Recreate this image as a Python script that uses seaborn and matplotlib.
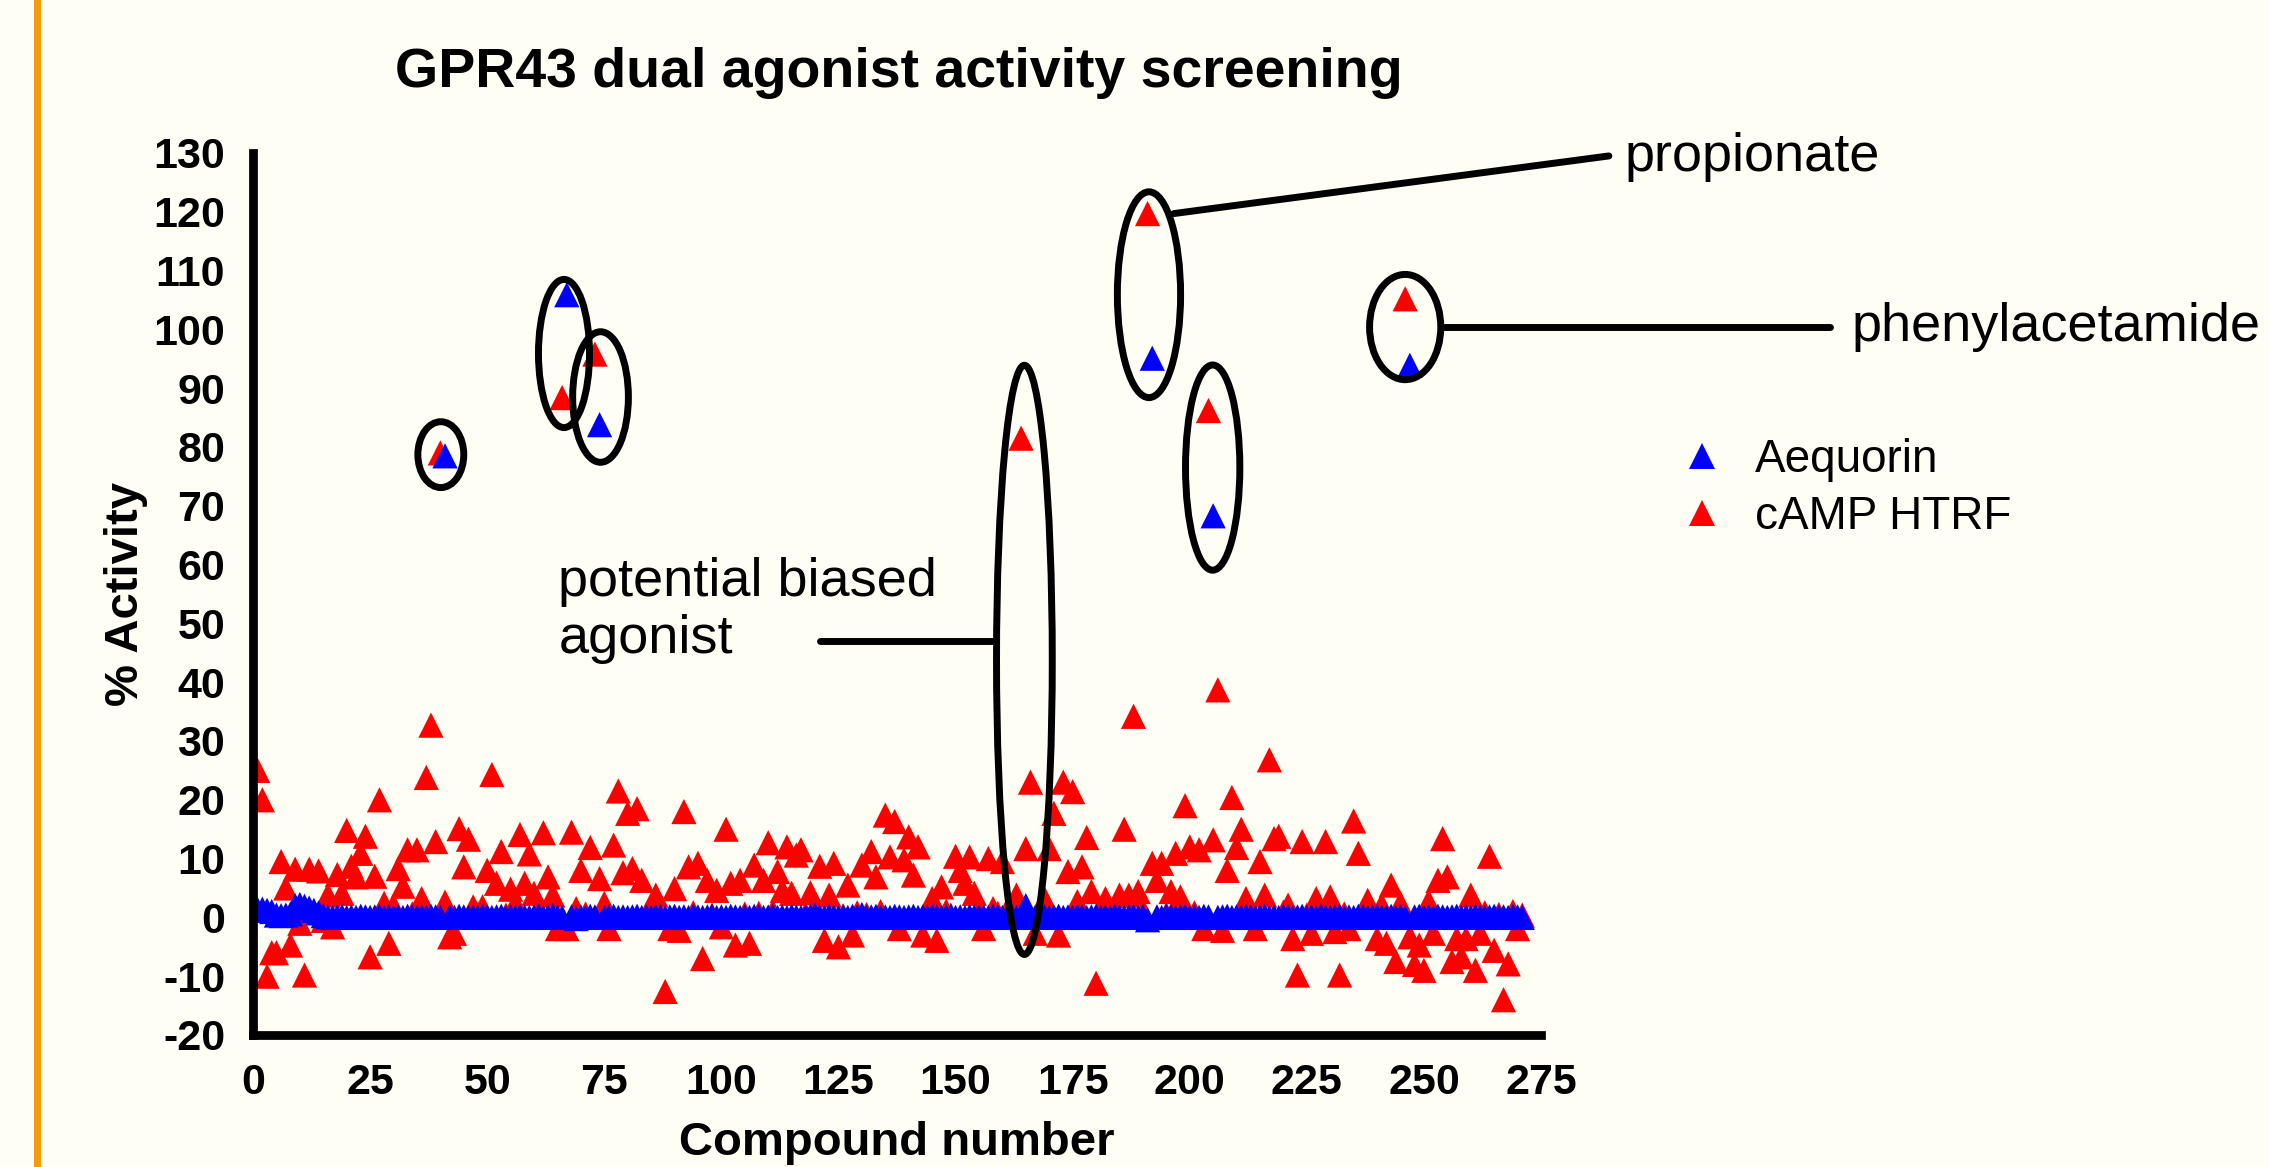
import matplotlib
matplotlib.use("Agg")
import matplotlib.pyplot as plt
import seaborn as sns
import pandas as pd
from matplotlib.patches import Ellipse, Rectangle
from matplotlib.lines import Line2D

# ---------------- data ----------------
compounds = list(range(1, 272))

camp_htrf = [
    25, 20, -10, -6, -6, 9.5, 5, -4.7, 8.2, -1,
    -9.8, 8.2, 0.8, 7.9, -0.5, 3.8, -1.6, 7.3, 4.1, 14.8,
    8.7, 6.9, 10.9, 13.8, -6.7, 7, 20, 2.4, -4.4, 2,
    8.3, 5.3, 11.5, 0.6, 11.5, 3.2, 23.8, 32.7, 12.9, 79,
    2.6, -3.3, -2.7, 15.1, 8.6, 13.3, 1.8, 0.5, 1.8, 8,
    24.3, 5.8, 11.2, 0.4, 4.8, 2.4, 14.1, 5.8, 10.8, 4.1,
    1.0, 14.4, 6.9, 3.8, -1.9, 88.4, -1.9, 14.5, 1.5, 8,
    0.6, 11.9, 95.8, 6.6, 2.4, -1.9, 12.3, 21.5, 7.6, 17.7,
    8.3, 18.5, 6.3, 0.5, 1.2, 3.8, 0.3, -12.6, -1.9, 4.9,
    -2.2, 18, 8.6, 0.8, 9.2, -7, 6.3, 0.4, 4.6, -1.6,
    15, 5.8, -4.7, 6.3, 0.6, -4.4, 8.9, 0.7, 6.3, 12.7,
    1.0, 7.8, 4.6, 12, 4.1, 10.6, 11.5, 0.5, 4.2, 1.2,
    8.7, -3.9, 3.8, 9.2, -5, 0.3, 5.5, -3, 0.8, 8.9,
    0.5, 11.2, 6.9, 1.0, 17.4, 10.3, 16.3, -1.9, 9.8, 13.7,
    7.2, 12, -3, 0.6, 3.2, -3.9, 5.2, 1.1, 0.4, 10.4,
    8, 5.8, 10.3, 4.1, 0.9, -1.9, 10, 1.5, 0.7, 9.5,
    1.2, 0.5, 3.8, 81.5, 11.7, 23, -2.7, 1.0, 3.2, 11.7,
    17.7, -3, 23, 7.8, 21.4, 2.7, 8.6, 13.6, 4.4, -11.2,
    0.6, 3.2, 1.0, 0.8, 3.8, 15, 3.8, 34.2, 4.4, 1.2,
    119.7, 9.2, 6.3, 9.2, 0.5, 4.4, 10.9, 3.5, 19, 12,
    0.8, 11.5, -1.9, 86.2, 13.2, 38.7, -2.2, 8, 20.4, 11.9,
    15, 3.2, 0.7, -1.9, 9.5, 3.8, 26.8, 13.4, 13.8, 0.9,
    2.1, -3.6, -9.8, 12.9, 0.4, -2.7, 3.2, 1.0, 12.9, 3.5,
    -2.4, -9.8, 0.6, -1.9, 16.4, 10.9, 1.2, 2.9, 0.5, -3.6,
    2.1, -4.4, 5.5, -7.5, 2.4, 105.2, -3.3, -8, -4.7, -9,
    2.7, -2.7, 6.3, 13.4, 6.9, -7.5, -3.6, -6.7, -3.6, 3.8,
    -9, -2.7, 0.8, 10.4, -5.6, 0.5, -14, -7.9, 1.0, -1.9,
    0.4,
]

aequorin = [
    1.3, 1.4, 1.2, 1.0, 0.4, 0.3, 0.4, 0.6, 2.0, 2.2,
    1.9, 1.6, 1.2, 0.8, 0.3, 0.1, 0, 0.1, 0.2, 0,
    0.1, 0, 0.2, 0.1, 0, 0.1, 0.2, 0, 0.1, 0,
    0.1, 0, 0.2, 0.1, 0, 0.1, 0, 0.2, 0.1, 0,
    78.5, 0.1, 0, 0.2, 0.1, 0, 0.1, 0, 0.2, 0.1,
    0, 0.1, 0.2, 0, 0.1, 0, 0.2, 0.1, 0, 0.1,
    0.2, 0, 0.1, 0.3, 0.1, 0, 105.9, 0.1, -0.2, 0.1,
    0, 0.2, 0.1, 83.8, 0, 0.1, 0.2, 0, 0.1, 0,
    0.1, 0.2, 0, 0.1, 0, 0.2, 0.1, 0, 0.1, 0.2,
    0, 0.1, 0, 0.2, 0.1, 0, 0.1, 0.2, 0, 0.1,
    0, 0.2, 0.1, 0, 0.1, 0, 0.2, 0.1, 0, 0.1,
    0.2, 0, 0.1, 0, 0.2, 0.1, 0, 0.1, 0.2, 0.4,
    0.1, 0, 0.2, 0.1, 0, 0.1, 0, 0.2, 0.1, 0.5,
    0, 0.1, 0.2, 0, 0.1, 0, 0.2, 0.1, 0, 0.1,
    0.2, 0, 0.1, 0, 0.2, 0.1, 0, 0.1, 0.2, 0,
    0.1, 0, 0.2, 0.1, 0, 0.1, 0, 0.2, 0.1, 0,
    0.1, 0.2, 0, 0.1, 2.0, 0.1, 0, 0.2, 0.1, 0,
    0.1, 0.2, 0, 0.1, 0, 0.2, 0.1, 0, 0.1, 0.2,
    0, 0.1, 0, 0.2, 0.1, 0, 0.1, 0.2, 0, 0.1,
    -0.4, 95.1, 0.1, 0, 0.2, 0.1, 0, 0.1, 0.2, 0,
    0.1, 0, 0.2, 0.1, 68.3, 0, 0.1, 0.2, 0, 0.1,
    0, 0.2, 0.1, 0, 0.1, 0.2, 0, 0.1, 0, 0.2,
    0.1, 0, 0.1, 0.2, 0, 0.1, 0, 0.2, 0.1, 0,
    0.1, 0.2, 0, 0.1, 0, 0.2, 0.1, 0, 0.1, 0.2,
    0, 0.1, 0.2, 0, 0.1, 0, 93.9, 0.1, 0.2, 0,
    0.1, 0, 0.2, 0.1, 0, 0.1, 0.2, 0, 0.1, 0,
    0.2, 0.1, 0, 0.1, 0.2, 0, 0.1, 0, 0.2, 0.1,
    0,
]

series_names = ["Aequorin", "cAMP HTRF"]
series_colors = {"Aequorin": "#0000FF", "cAMP HTRF": "#FF0000"}
x_ticks = list(range(0, 276, 25))
y_ticks = list(range(-20, 131, 10))

title_text = "GPR43 dual agonist activity screening"
xlabel_text = "Compound number"
ylabel_text = "% Activity"

# annotation ellipses: (x center, y center, width, height) in data units
ellipses = [
    (40.1, 78.7, 9.8, 11.2),
    (66.4, 95.9, 10.9, 25.2),
    (74.2, 88.5, 11.9, 22.2),
    (164.7, 43.8, 11.9, 100.2),
    (191.3, 105.9, 13.5, 35.0),
    (204.9, 76.5, 11.6, 34.9),
    (246.0, 100.4, 15.2, 17.9),
]

# ---------------- frame ----------------
df = pd.concat([
    pd.DataFrame({"Compound": compounds, "Activity": camp_htrf, "Assay": "cAMP HTRF"}),
    pd.DataFrame({"Compound": compounds, "Activity": aequorin, "Assay": "Aequorin"}),
], ignore_index=True)

sns.set_style("white")
plt.rcParams["font.family"] = ["Liberation Sans", "DejaVu Sans"]
plt.rcParams["axes.unicode_minus"] = False
plt.rcParams["text.color"] = "black"
plt.rcParams["axes.labelcolor"] = "black"
plt.rcParams["xtick.color"] = "black"
plt.rcParams["ytick.color"] = "black"

bg = "#FFFEF5"
fig = plt.figure(figsize=(22.69, 11.67), dpi=100, facecolor=bg)
ax = fig.add_axes([253 / 2269, 1 - 1035 / 1167, 1288 / 2269, 882 / 1167])
ax.set_facecolor(bg)

msize = 330
sns.scatterplot(data=df, x="Compound", y="Activity", hue="Assay",
                hue_order=series_names, palette=series_colors,
                marker="^", s=msize, linewidth=0, legend=False, ax=ax)

ax.set_xlim(0, 275)
ax.set_ylim(-20, 130)
ax.set_xticks(x_ticks)
ax.set_yticks(y_ticks)

for side in ["top", "right"]:
    ax.spines[side].set_visible(False)
for side in ["left", "bottom"]:
    ax.spines[side].set_linewidth(6.3)
    ax.spines[side].set_color("black")

ax.tick_params(axis="both", direction="out", length=15, width=6,
               labelsize=31, colors="black")
ax.tick_params(axis="x", pad=5)
ax.tick_params(axis="y", pad=5)
for lab in ax.get_xticklabels() + ax.get_yticklabels():
    lab.set_fontweight("bold")
    lab.set_color("black")

ax.set_xlabel(xlabel_text, fontsize=34, fontweight="bold", color="black")
ax.set_ylabel(ylabel_text, fontsize=34, fontweight="bold", color="black")
ax.xaxis.set_label_coords(0.5, -0.0975)
ax.yaxis.set_label_coords(-0.0815, 0.5)

fig.text(899 / 2269, 1 - 73 / 1167, title_text, fontsize=40,
         fontweight="bold", ha="center", va="center", color="black")

# ellipses
for (cx, cy, w, h) in ellipses:
    ax.add_patch(Ellipse((cx, cy), w, h, fill=False, edgecolor="black",
                         linewidth=5, clip_on=False, zorder=5))

# leader lines and labels
ax.plot([196.6, 289.5], [119.7, 129.5], color="black", lw=5, clip_on=False, zorder=5)
ax.text(292.9, 129.4, "propionate", fontsize=39, ha="left", va="center", color="black")

ax.plot([254.3, 336.7], [100.4, 100.4], color="black", lw=5, clip_on=False, zorder=5)
ax.text(341.4, 100.4, "phenylacetamide", fontsize=39, ha="left", va="center", color="black")

ax.plot([121.1, 158.0], [47.0, 47.0], color="black", lw=5, clip_on=False, zorder=5)
ax.text(65.2, 52.2, "potential biased\nagonist", fontsize=39, ha="left",
        va="center", linespacing=1.2, color="black")

# legend
handles = [Line2D([], [], marker="^", linestyle="", color=series_colors[n],
                  markersize=msize ** 0.5, markeredgewidth=0) for n in series_names]
leg = ax.legend(handles, series_names, loc="center left",
                bbox_to_anchor=(1679 / 2269, 1 - 488.5 / 1167),
                bbox_transform=fig.transFigure, frameon=False, fontsize=33,
                handlelength=1.0, handletextpad=0.65, labelspacing=0.3,
                borderpad=0, borderaxespad=0)
for t in leg.get_texts():
    t.set_color("black")

# orange page edge
fig.patches.append(Rectangle((34 / 2269, 0), 7 / 2269, 1, transform=fig.transFigure,
                             facecolor="#F39C0B", edgecolor="none"))

fig.savefig("out.png", dpi=100, facecolor=bg)
